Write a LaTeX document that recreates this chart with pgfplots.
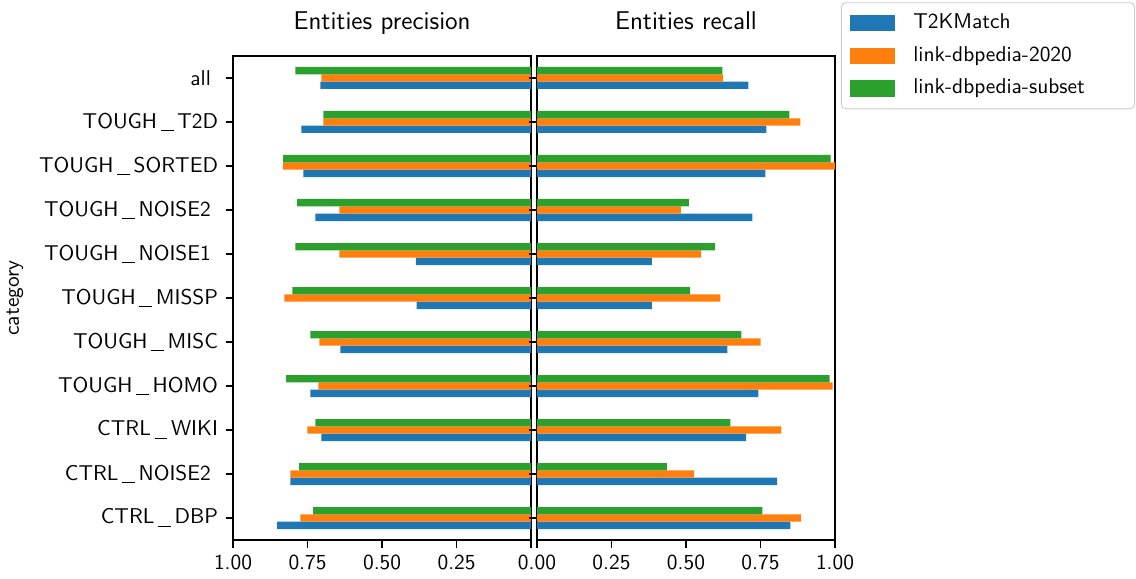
\documentclass[border=0pt]{standalone}
\usepackage{pgfplots}
\pgfplotsset{compat=1.18}
\renewcommand{\familydefault}{\sfdefault}
\definecolor{tabblue}{HTML}{1F77B4}
\definecolor{taborange}{HTML}{FF7F0E}
\definecolor{tabgreen}{HTML}{2CA02C}
\newcommand{\us}{\kern1.7pt\rule[-1.5pt]{6pt}{0.5pt}\kern1.7pt}
\newcommand{\tsp}{\kern3.33pt}

% y index: 0 = CTRL_DBP (bottom) ... 10 = all (top)
\pgfplotstableread{
y  pb    po    pg    rb    ro    rg
0  0.852 0.774 0.731 0.850 0.886 0.756
1  0.808 0.808 0.778 0.806 0.527 0.436
2  0.704 0.751 0.724 0.702 0.820 0.649
3  0.741 0.714 0.822 0.743 0.992 0.982
4  0.640 0.710 0.741 0.639 0.750 0.686
5  0.384 0.828 0.801 0.386 0.615 0.514
6  0.387 0.643 0.791 0.386 0.551 0.598
7  0.724 0.643 0.785 0.723 0.483 0.510
8  0.764 0.832 0.832 0.766 1.000 0.985
9  0.771 0.697 0.697 0.770 0.884 0.847
10 0.707 0.704 0.791 0.709 0.625 0.622
}\datatable

\begin{document}
\begin{tikzpicture}
\useasboundingbox (0,0) rectangle (530.84pt,270.56pt);
\pgfplotsset{
  common/.style={
    scale only axis, width=139.3pt, height=226.2pt,
    anchor=south west,
    xbar, bar width=0.1667,
    ymin=-0.5, ymax=10.5, xmin=0, xmax=1,
    xtick={0,0.25,0.5,0.75,1}, ytick={0,...,10},
    tick align=outside, xtick pos=left, ytick pos=left,
    major tick length=3.5pt,
    tick style={black, line width=0.8pt},
    axis line style={black, line width=0.8pt},
    xticklabel style={/pgf/number format/fixed, /pgf/number format/fixed zerofill, /pgf/number format/precision=2, /pgf/number format/assume math mode=true},
    title style={font=\large, at={(axis description cs:0.5,1)}, anchor=base, yshift=6.5pt},
  },
}
\begin{axis}[common, at={(108.9pt,18.2pt)}, x dir=reverse,
  title={Entities precision},
  xticklabels={,0.25,0.50,0.75,1.00},
  yticklabels={CTRL\us DBP, CTRL\us NOISE2\tsp, CTRL\us WIKI, TOUGH\us HOMO, TOUGH\us MISC, TOUGH\us MISSP, TOUGH\us NOISE1\tsp, TOUGH\us NOISE2\tsp, TOUGH\us SORTED, TOUGH\us T2D, all\tsp},
  ylabel={category},
  ylabel style={at={(axis description cs:-0.7315,0.5)}, anchor=center},
]
\addplot[draw=none, fill=tabblue, bar shift=-0.1667] table[x=pb, y=y] {\datatable};
\addplot[draw=none, fill=taborange, bar shift=0] table[x=po, y=y] {\datatable};
\addplot[draw=none, fill=tabgreen, bar shift=0.1667] table[x=pg, y=y] {\datatable};
\end{axis}
\begin{axis}[common, at={(250.9pt,18.2pt)},
  title={Entities recall},
  yticklabels={},
  legend style={at={(1.02,1.111)}, anchor=north west, draw=black!20, rounded corners=2pt,
    inner xsep=4.2pt, inner ysep=5pt, row sep=6.3pt, column sep=0pt,
    nodes={inner sep=0pt, text height=7pt, text depth=2pt}},
  legend cell align=left,
  legend image code/.code={\fill[#1, sharp corners] (0pt,-3.75pt) rectangle (21pt,3.75pt); \path (29.4pt,0pt);},
]
\addplot[draw=none, fill=tabblue, bar shift=-0.1667] table[x=rb, y=y] {\datatable};
\addlegendentry{T2KMatch}
\addplot[draw=none, fill=taborange, bar shift=0] table[x=ro, y=y] {\datatable};
\addlegendentry{link-dbpedia-2020}
\addplot[draw=none, fill=tabgreen, bar shift=0.1667] table[x=rg, y=y] {\datatable};
\addlegendentry{link-dbpedia-subset\kern19pt}
\end{axis}
\end{tikzpicture}
\end{document}
